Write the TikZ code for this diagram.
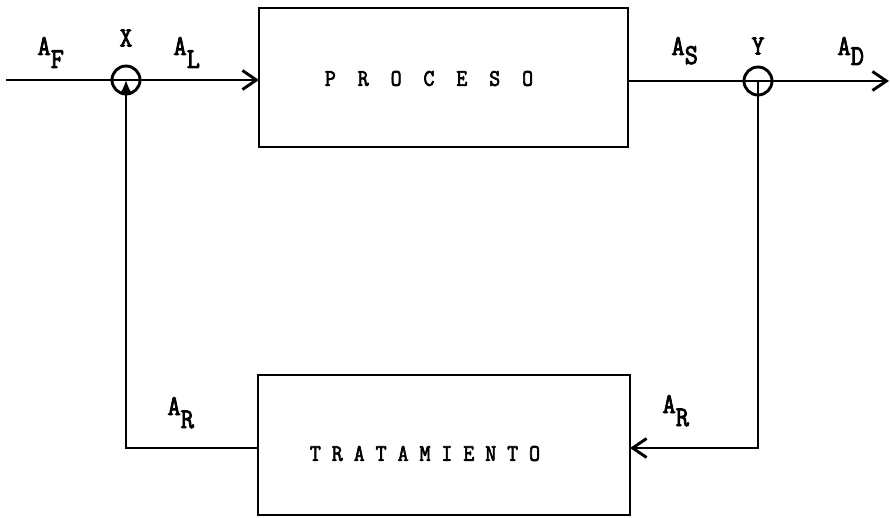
\documentclass[tikz,border=0pt]{standalone}
\usepackage{fontspec}
\usepackage{graphicx}
\newfontfamily\tw[FakeBold=3]{Latin Modern Mono}
\usetikzlibrary{arrows.meta}
\newcommand\lowsub[1]{\raisebox{-13pt}{#1}}
\newcommand\tall[1]{\scalebox{1.12}[1.25]{#1}}
\begin{document}
\begin{tikzpicture}[x=1pt,y=-1pt,line width=2.9pt,
  box/.style={draw,rectangle,inner sep=0pt,outer sep=0pt},
  word/.style={inner sep=0pt,font=\tw\fontsize{19}{19}\selectfont},
  sumc/.style={draw,circle,minimum size=28pt,inner sep=0pt,outer sep=0pt},
  lab/.style={inner sep=0pt,anchor=base west,font=\tw\fontsize{23}{23}\selectfont},
  nm/.style={inner sep=0pt,font=\tw\fontsize{22}{22}\selectfont},
  barb/.style={-{Straight Barb[length=14pt,width=19pt]}},
  uptip/.style={-{Latex[length=14pt,width=13pt]}}]
\useasboundingbox (0,0) rectangle (890,518);
% boxes
\node[box,minimum width=369pt,minimum height=139pt] (proc) at (443.5,77.5) {};
\node[box,minimum width=372pt,minimum height=140pt] (treat) at (444,445) {};
\node[word] (tproc) at (429,78.5) {\tall{P~~R~~O~~C~~E~~S~~O}};
\node[word] (ttreat) at (425,453.5) {\tall{T~R~A~T~A~M~I~E~N~T~O}};
% summing junctions
\node[sumc] (X) at (126,80) {};
\node[sumc] (Y) at (758,81) {};
% coordinates
\coordinate (in) at (6,80);
\coordinate (out) at (889,81);
\coordinate (fb) at (0,448);
% connectors
\draw[barb] (in) -- (in -| proc.west);
\draw[barb] (out -| proc.east) -- (out);
\draw[barb] (Y.center) |- (treat.east |- fb);
\draw[uptip] (treat.west |- fb) -| (X.center);
% labels
\node[nm] (lX) at (126,38) {\tall{X}};
\node[nm] (lY) at (758,46) {\tall{Y}};
\node[lab] (lAF) at (36,55) {\tall{A}\lowsub{\tall{F}}};
\node[lab] (lAL) at (172,55) {\tall{A}\lowsub{\tall{L}}};
\node[lab] (lAS) at (670,55) {\tall{A}\raisebox{-9pt}{\tall{S}}};
\node[lab] (lAD) at (836,55) {\tall{A}\raisebox{-10pt}{\tall{D}}};
\node[lab] (lAR1) at (166,415) {\tall{A}\lowsub{\tall{R}}};
\node[lab] (lAR2) at (661,413) {\tall{A}\lowsub{\tall{R}}};
\end{tikzpicture}
\end{document}
